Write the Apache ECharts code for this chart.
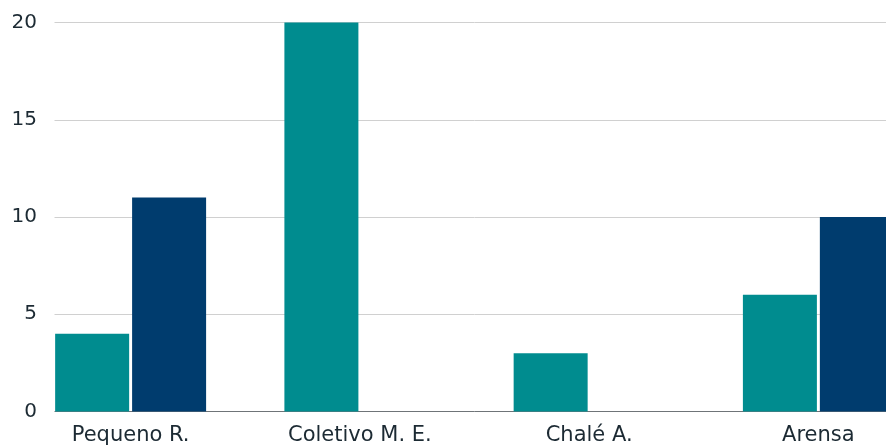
<!DOCTYPE html>
<html>
<head>
<meta charset="utf-8">
<script src="https://cdn.jsdelivr.net/npm/echarts@6/dist/echarts.min.js"></script>
<style>
  html, body { margin: 0; padding: 0; background: #fff; overflow: hidden; }
  /* mais largo que a janela: a imagem original está cortada à direita */
  #chart { width: 933px; height: 448px; }
</style>
</head>
<body>
<div id="chart"></div>
<script>
// dados do gráfico
var categorias = ['Pequeno R.', 'Coletivo M. E.', 'Chalé A.', 'Arensa'];
var serieA = [4, 20, 3, 6];
var serieB = [11, 0, 0, 10];
var yTicks = [0, 5, 10, 15, 20];

var myChart = echarts.init(document.getElementById('chart'));
var fonte = '"DejaVu Sans", "Noto Sans", sans-serif';

var option = {
  backgroundColor: '#fff',
  animation: false,
  grid: { left: 16, top: 22.5, bottom: 36.5, right: 0, containLabel: false },
  // cobre o começo das linhas de grade (na imagem começam em x=55)
  graphic: [{
    type: 'rect', z: 10,
    shape: { x: 0, y: 0, width: 54.5, height: 418 },
    style: { fill: '#fff' }
  }],
  xAxis: {
    type: 'category',
    data: categorias,
    axisTick: { show: false },
    axisLine: { lineStyle: { color: '#6f7478', width: 1 } },
    axisLabel: { color: '#1c2a33', fontFamily: fonte, fontSize: 21, margin: 14 }
  },
  yAxis: [{
    type: 'value', min: yTicks[0], max: yTicks[yTicks.length - 1], interval: 5,
    axisLabel: { show: false },
    axisLine: { show: false }, axisTick: { show: false },
    splitLine: { lineStyle: { color: '#d0d0d0', width: 1 } }
  }, {
    // só os rótulos, por cima do retângulo branco
    type: 'value', min: yTicks[0], max: yTicks[yTicks.length - 1], interval: 5,
    position: 'left', offset: -29, z: 20,
    axisLabel: { color: '#1c2a33', fontFamily: fonte, fontSize: 20, margin: 8 },
    axisLine: { show: false }, axisTick: { show: false }, splitLine: { show: false }
  }],
  series: [{
    name: 'A', type: 'bar', data: serieA,
    barWidth: 74, barGap: '4%',
    itemStyle: { color: '#008c8f' }
  }, {
    name: 'B', type: 'bar', data: serieB,
    barWidth: 74,
    itemStyle: { color: '#003c6e' }
  }]
};

myChart.setOption(option);
</script>
</body>
</html>
